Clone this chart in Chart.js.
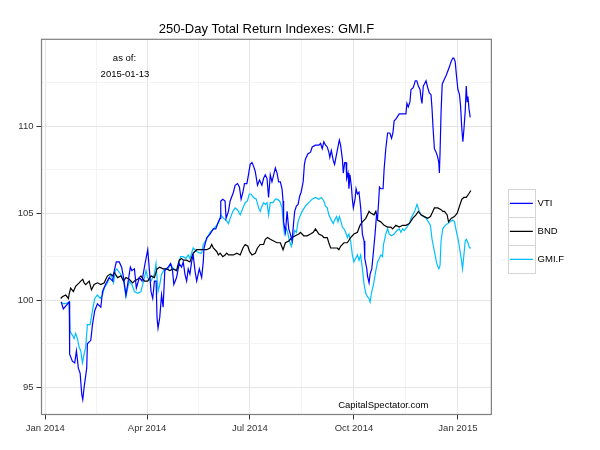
<!DOCTYPE html>
<html>
<head>
<meta charset="utf-8">
<title>250-Day Total Return Indexes: GMI.F</title>
<script src="https://cdn.jsdelivr.net/npm/chart.js@4.4.1/dist/chart.umd.min.js"></script>
<style>
  html, body { margin: 0; padding: 0; background: #fff; }
</style>
</head>
<body>
<canvas id="myChart" width="600" height="450"></canvas>
<script>
// x values are days counted from 2014-01-01
var vtiDays = [14.1, 15.9, 21.2, 21.5, 23.9, 26, 27.5, 29.2, 30.8, 32.2, 33.1, 34.3, 36.6, 37.2, 40.2, 41.7, 43.7, 46.1, 49.1, 50.6,
  53.2, 56.5, 59.5, 61, 62.8, 65.4, 67.5, 69.2, 71.3, 72.8, 75.2, 76.6, 78.8, 80.5, 83.2, 85.5, 88.2, 90.6, 92.1, 93.5,
  95, 96.5, 98, 98.8, 99.7, 101.2, 102.8, 104.2, 105.7, 108.6, 110.8, 112.5, 113.7, 116.1, 118.4, 120.5, 122, 123.5, 125, 126.4,
  127.9, 129.4, 130.8, 132.4, 133.9, 136.2, 138.3, 139.7, 140.4, 142.8, 145.7, 148.6, 150.8, 153.1, 154.6, 155.2, 157, 159, 159.9, 162,
  163.5, 166.4, 167.9, 170, 171.7, 173.2, 174.8, 176.2, 178.3, 179.7, 181.2, 182.8, 184.2, 185.7, 187.7, 189.5, 191.6, 193.1, 194.6, 196.1,
  197.5, 199, 200.5, 202, 203.5, 205, 206.4, 207.9, 209.4, 210.3, 210.8, 212.4, 213.9, 215.3, 216.8, 218.3, 219.7, 220.6, 222.1, 223.6,
  225.1, 226.3, 228.1, 229.2, 230.1, 232.2, 234.6, 236.1, 239, 242, 243.5, 245, 246.4, 247.9, 249.4, 250.8, 251.7, 253, 254.8, 255.9,
  257.7, 259.2, 260.1, 261.2, 262.8, 263.6, 264.8, 266, 266.6, 267.8, 268.6, 269.5, 270.8, 271.6, 272.5, 274, 274.9, 276.1, 277.5, 279,
  280.5, 282, 282.6, 284.4, 285, 286.4, 287.3, 288.8, 290.3, 291.7, 293, 293.9, 294.8, 295.6, 296.8, 298.8, 299.7, 301.2, 302.8, 304.8,
  306.3, 307.5, 308.6, 310.1, 313.1, 319, 319.9, 321.1, 322.6, 323.5, 325.5, 327.3, 328.6, 330, 331.5, 332.4, 333.2, 334.4, 335.3, 336.8,
  338.3, 339.7, 341.2, 342.1, 343, 344.2, 345.7, 347.2, 348.1, 348.6, 349.2, 350.1, 351.1, 353.1, 354.6, 357.5, 359, 360.5, 361.4, 362.6,
  363.7, 365, 366.4, 367.3, 368.5, 369.4, 370.3, 371.5, 372.4, 373.2, 373.9, 374.8, 375.9, 376.5];
var vtiValues = [99.9, 99.5, 99.9, 96.9, 96.5, 96.4, 97.1, 96.1, 95.8, 94.6, 94.3, 95.0, 96.1, 97.5, 97.7, 98.6, 99.4, 99.8, 99.6, 100.5,
  100.9, 101.3, 101.1, 101.7, 102.2, 102.2, 101.9, 101.3, 100.3, 100.9, 101.9, 101.7, 101.8, 100.7, 101.3, 101.1, 102.1, 102.9, 101.7, 100.5,
  100.1, 101.1, 101.1, 99.0, 98.4, 99.0, 100.3, 99.6, 101.7, 101.9, 102.1, 101.7, 100.9, 101.3, 102.1, 101.9, 102.2, 101.5, 101.1, 101.8,
  101.5, 102.2, 102.6, 101.7, 101.1, 101.8, 101.3, 102.2, 103.0, 103.6, 103.8, 104.1, 104.1, 104.5, 104.7, 105.7, 105.8, 105.7, 104.7, 105.1,
  105.7, 106.2, 106.6, 106.7, 106.5, 105.8, 106.2, 106.7, 106.7, 107.2, 107.8, 107.9, 107.7, 107.4, 106.6, 106.9, 106.6, 107.0, 107.2, 107.0,
  105.9, 107.2, 106.8, 107.2, 107.6, 107.3, 106.8, 106.8, 106.4, 105.7, 104.5, 103.9, 105.1, 104.1, 103.8, 103.4, 104.5, 105.1, 105.4, 105.5,
  106.0, 106.2, 106.8, 107.8, 108.1, 108.4, 108.5, 108.8, 108.9, 108.9, 109.0, 108.7, 109.1, 108.9, 108.8, 108.5, 108.2, 108.6, 108.0, 107.8,
  108.4, 108.9, 109.2, 108.9, 108.1, 107.3, 107.9, 107.9, 107.0, 107.3, 106.4, 107.2, 106.5, 105.8, 105.3, 105.8, 106.4, 106.1, 106.2, 105.3,
  103.8, 103.4, 102.4, 101.8, 101.4, 101.0, 101.5, 101.8, 102.8, 103.8, 104.9, 104.7, 105.6, 106.5, 106.4, 106.4, 107.5, 108.7, 109.6, 109.6,
  109.3, 109.6, 110.3, 110.4, 110.7, 110.7, 111.3, 111.1, 111.4, 112.1, 112.2, 112.6, 112.6, 112.3, 112.1, 111.6, 111.3, 112.3, 112.4, 112.6,
  112.2, 111.9, 111.8, 111.0, 109.9, 108.7, 108.5, 108.2, 107.9, 107.3, 108.5, 110.8, 112.4, 112.7, 112.9, 113.4, 113.7, 113.9, 113.9, 113.7,
  112.9, 112.1, 111.8, 111.2, 109.8, 109.1, 109.8, 110.9, 112.3, 111.4, 111.7, 111.0, 110.5, 110.5];

var bndDays = [13.6, 15, 18, 20.4, 21.2, 22.4, 24.8, 26.8, 29.9, 31.3, 33.1, 34.3, 35.7, 38.8, 40.8, 43.2, 46.1, 49.1, 52.1, 53.5,
  55, 57.4, 59.5, 61, 63.9, 66.8, 69.2, 71.3, 74.3, 77.2, 78.8, 81.7, 84.6, 87.6, 90.6, 93.5, 96.5, 98.8, 101.2, 104.2,
  107.2, 110.1, 113.1, 116.1, 118.4, 120.5, 122, 125, 127.9, 130.8, 133.9, 136.8, 139.7, 142.8, 145.7, 147.2, 148.6, 151.6, 153.1, 154.6,
  157, 159, 160.5, 162, 163.5, 166.4, 169.4, 172.4, 174.8, 176.8, 179.2, 180.6, 182.8, 185.7, 187.7, 190.1, 193.1, 194.6, 196.6, 199,
  202, 205, 207.9, 210.3, 212.4, 215.3, 218.3, 221.2, 224.2, 225.7, 228.6, 231.6, 234.6, 237, 239, 242, 245, 246.4, 249.4, 250.8,
  252.4, 255.3, 258.3, 259.7, 261.2, 264.2, 267.2, 270.1, 273, 276.1, 278.4, 280.5, 283.5, 286.4, 287.9, 290.8, 292.4, 293.9, 296.8, 299.7,
  302.8, 305.7, 307.2, 310.1, 313.1, 316.1, 319, 322, 325, 327.9, 330, 332.4, 335.3, 338.3, 340.7, 342.8, 344.2, 347.2, 350.1, 351.6,
  353.1, 355.5, 356.7, 359, 361.9, 364.4, 366.4, 368.5, 370.3, 372.4, 374.5, 376.5];
var bndValues = [100.1, 100.2, 100.3, 100.1, 100.4, 100.7, 100.5, 100.8, 101.0, 101.1, 101.2, 101.0, 100.9, 101.1, 100.6, 100.9, 101.0, 100.9, 101.0, 101.2,
  101.4, 101.5, 101.4, 101.6, 101.3, 101.4, 101.1, 101.3, 101.2, 101.0, 101.1, 101.2, 101.4, 101.1, 101.1, 101.4, 101.3, 101.8, 101.9, 101.8,
  101.8, 101.7, 101.8, 101.7, 102.3, 102.4, 102.3, 102.3, 102.2, 102.7, 102.9, 102.9, 102.9, 102.9, 103.0, 103.2, 103.0, 102.8, 102.6, 102.7,
  102.5, 102.6, 102.7, 102.6, 102.6, 102.6, 102.7, 102.6, 103.0, 103.2, 103.1, 102.8, 102.6, 102.7, 103.0, 103.2, 103.2, 103.5, 103.6, 103.5,
  103.4, 103.3, 103.3, 102.9, 103.3, 103.4, 103.6, 103.7, 103.8, 103.9, 103.7, 103.7, 103.8, 103.9, 104.1, 103.8, 103.7, 103.6, 103.6, 103.3,
  103.0, 103.0, 103.0, 102.9, 103.1, 103.3, 103.3, 103.6, 103.8, 103.9, 104.3, 104.5, 104.7, 105.1, 105.0, 104.9, 105.1, 104.6, 104.5, 104.3,
  104.2, 104.2, 104.1, 104.3, 104.2, 104.3, 104.3, 104.4, 104.7, 104.9, 105.1, 104.9, 104.8, 104.7, 104.8, 105.1, 105.3, 105.3, 105.2, 105.1,
  105.1, 104.9, 104.5, 104.7, 104.8, 105.0, 105.4, 105.8, 105.9, 105.9, 106.1, 106.3];

var gmiDays = [13.6, 15.9, 18, 21, 21.9, 23.9, 25.4, 26.8, 28.4, 29.9, 31.3, 32.8, 34.3, 35.7, 37.2, 39.6, 41.7, 43.7, 46.1, 48.5,
  50.6, 52.1, 55, 58, 60.4, 61.9, 63.3, 65.4, 66.8, 69.2, 71.3, 72.8, 74.3, 76.6, 78.8, 81.7, 84.6, 87.6, 89.1, 90.6,
  93.5, 96.5, 97.9, 99.7, 101.2, 102.8, 105.7, 108.6, 110.8, 113.1, 116.1, 118.4, 119.6, 122, 124.4, 126.4, 127.9, 130.8, 133.9, 136.8,
  138.3, 139.7, 142.8, 145.7, 148.6, 151.6, 153.7, 155.2, 157.5, 159.9, 162, 163.5, 165.9, 167.9, 170, 172.4, 174.8, 176.8, 178.8, 180.4,
  181.9, 184.2, 186.6, 188.7, 190.1, 191.6, 193.1, 194.6, 196.1, 197.5, 199, 201.4, 203.5, 205, 207.3, 209.4, 210.3, 211.5, 213.2, 214.4,
  215.9, 217.7, 219.2, 220.6, 222.1, 223.6, 225.1, 227.2, 230.1, 233.1, 236.1, 239, 242, 244.3, 246.4, 247.9, 249.4, 250.8, 253, 254.8,
  255.9, 257.7, 258.9, 260.1, 261.2, 262.8, 264.2, 265.7, 267.2, 268.6, 270.1, 271.6, 273, 274.5, 276.1, 277.5, 279, 280.5, 282, 283.5,
  285, 286.4, 287.3, 288.8, 290.3, 292.4, 293.9, 295.4, 296.8, 298.3, 299.2, 301.2, 302.8, 304.2, 306.3, 308.6, 311, 313.1, 314.6, 316.1,
  317.5, 319.9, 322, 323.5, 325.9, 327.3, 328.8, 330.9, 332.4, 334.8, 336.8, 338.9, 340.7, 342.1, 344.2, 346.3, 348.1, 349.2, 350.1, 351.6,
  353.7, 356.1, 358.1, 360.5, 362, 363.5, 365.5, 366.7, 367.9, 369.1, 370.3, 371.5, 372.4, 373.9, 375.3, 376.5];
var gmiValues = [99.9, 99.8, 99.8, 99.9, 98.2, 98.0, 97.8, 98.1, 97.8, 97.3, 97.1, 96.4, 96.9, 97.3, 98.6, 98.6, 99.4, 100.1, 100.3, 100.1,
  100.3, 100.7, 101.0, 101.5, 101.0, 101.7, 101.8, 101.6, 101.5, 101.1, 100.2, 100.7, 101.1, 100.9, 100.5, 100.4, 100.5, 101.3, 101.7, 101.3,
  101.1, 101.5, 102.1, 100.5, 100.9, 101.5, 101.8, 101.8, 102.1, 101.8, 101.7, 102.1, 102.5, 102.5, 102.4, 102.6, 102.4, 103.0, 102.8, 102.7,
  102.7, 103.2, 103.5, 103.9, 104.1, 104.3, 104.5, 104.9, 104.7, 104.6, 104.4, 104.7, 105.1, 105.3, 105.2, 104.9, 105.3, 105.6, 105.7, 106.1,
  106.1, 105.9, 105.8, 105.3, 105.1, 105.4, 105.6, 105.5, 105.6, 104.9, 105.6, 105.6, 105.8, 105.8, 105.7, 105.3, 104.6, 103.8, 104.1, 103.9,
  103.4, 103.1, 103.6, 104.0, 103.9, 104.5, 104.8, 105.1, 105.4, 105.6, 105.8, 105.9, 105.8, 105.9, 105.7, 105.4, 105.3, 104.9, 104.6, 104.4,
  104.6, 104.8, 104.5, 104.8, 104.6, 104.2, 104.1, 103.9, 103.6, 103.8, 103.4, 102.6, 102.2, 102.4, 102.6, 102.3, 102.6, 101.8, 100.9, 100.4,
  100.2, 100.1, 99.9, 100.5, 100.9, 101.7, 102.2, 102.4, 102.6, 102.5, 103.2, 103.8, 104.1, 103.8, 103.7, 103.8, 104.0, 104.1, 103.9, 104.1,
  104.0, 104.2, 104.4, 104.7, 105.0, 105.2, 105.5, 105.1, 104.9, 104.8, 104.7, 104.5, 104.3, 103.5, 102.8, 102.1, 101.8, 102.0, 103.4, 104.1,
  104.3, 104.4, 104.5, 104.6, 104.5, 104.0, 103.4, 102.9, 102.4, 101.8, 102.6, 103.4, 103.5, 103.3, 103.0, 103.0];

var seriesNames = ['VTI', 'BND', 'GMI.F'];

// axis ticks
var xMajorDays = [0, 90, 181, 273, 365];
var xMajorLabels = ['Jan 2014', 'Apr 2014', 'Jul 2014', 'Oct 2014', 'Jan 2015'];
var xMinorDays = [45, 135.5, 227, 319];
var yMajorTicks = [95, 100, 105, 110];
var yMinorTicks = [97.5, 102.5, 107.5, 112.5];

// text notes inside the panel
var noteTexts = ['as of:', '2015-01-13', 'CapitalSpectator.com'];
var noteDays = [70, 70.4, 299];
var noteValues = [113.89, 112.99, 93.94];

var FONT = '"Liberation Sans", Arial, sans-serif';
Chart.defaults.font.family = FONT;
Chart.defaults.color = '#333';

function toPoints(days, vals) {
    return days.map(function(d, i) { return { x: d, y: vals[i] }; });
}

// panel border, notes and the grey cells round the legend keys
var panelPlugin = {
    id: 'panel',
    afterDraw: function(chart) {
        var ctx = chart.ctx;
        var a = chart.chartArea;
        var sx = chart.scales.x, sy = chart.scales.y;
        ctx.save();
        ctx.strokeStyle = '#7f7f7f';
        ctx.lineWidth = 1.2;
        ctx.strokeRect(a.left, a.top, a.right - a.left, a.bottom - a.top);

        ctx.fillStyle = '#000';
        ctx.font = '9.5px ' + FONT;
        ctx.textAlign = 'center';
        ctx.textBaseline = 'middle';
        noteTexts.forEach(function(t, i) {
            ctx.fillText(t, sx.getPixelForValue(noteDays[i]), sy.getPixelForValue(noteValues[i]));
        });

        var lg = chart.legend;
        ctx.strokeStyle = '#d4d4d4';
        ctx.lineWidth = 1;
        lg.legendHitBoxes.forEach(function(hb) {
            var cy = hb.top + 4.75;
            ctx.strokeRect(Math.round(hb.left - 2) + 0.5, Math.round(cy - 14) + 0.5, 27, 28);
        });
        ctx.restore();
    }
};

var ctx = document.getElementById('myChart').getContext('2d');
var myChart = new Chart(ctx, {
    type: 'line',
    data: {
        datasets: [{
            label: seriesNames[0],
            data: toPoints(vtiDays, vtiValues),
            borderColor: '#0000ff',
            borderWidth: 1.2
        }, {
            label: seriesNames[1],
            data: toPoints(bndDays, bndValues),
            borderColor: '#000000',
            borderWidth: 1.2
        }, {
            label: seriesNames[2],
            data: toPoints(gmiDays, gmiValues),
            borderColor: '#00bfff',
            borderWidth: 1.2
        }]
    },
    options: {
        responsive: false,
        animation: false,
        elements: { point: { radius: 0 }, line: { tension: 0 } },
        layout: { padding: { left: 0, right: 26, top: 0, bottom: 0 } },
        plugins: {
            title: {
                display: true,
                text: '250-Day Total Return Indexes: GMI.F',
                fullSize: false,
                color: '#000',
                font: { size: 13, weight: 'normal' },
                padding: { top: 21.2, bottom: 2.5 }
            },
            legend: {
                position: 'right',
                title: { display: true, text: '', font: { size: 10.5 }, padding: 0 },
                labels: {
                    usePointStyle: true,
                    pointStyle: 'line',
                    pointStyleWidth: 23,
                    padding: 18.5,
                    color: '#000',
                    font: { size: 9.5 }
                }
            },
            tooltip: { enabled: false }
        },
        scales: {
            x: {
                type: 'linear',
                min: -3.4,
                max: 394.6,
                afterBuildTicks: function(s) {
                    s.ticks = xMajorDays.concat(xMinorDays).sort(function(a, b) { return a - b; })
                        .map(function(v) { return { value: v }; });
                },
                afterFit: function(s) { s.height = 35.5; },
                ticks: {
                    autoSkip: false,
                    maxRotation: 0,
                    padding: 3,
                    color: '#333',
                    font: { size: 9.5 },
                    callback: function(v) {
                        var i = xMajorDays.indexOf(v);
                        return i >= 0 ? xMajorLabels[i] : '';
                    }
                },
                grid: {
                    color: function(c) { return xMajorDays.indexOf(c.tick.value) >= 0 ? '#e5e5e5' : '#f4f4f4'; },
                    tickColor: function(c) { return xMajorDays.indexOf(c.tick.value) >= 0 ? '#333' : 'rgba(0,0,0,0)'; },
                    tickLength: 5
                },
                border: { display: false }
            },
            y: {
                type: 'linear',
                min: 93.44,
                max: 114.98,
                afterBuildTicks: function(s) {
                    s.ticks = yMajorTicks.concat(yMinorTicks).sort(function(a, b) { return a - b; })
                        .map(function(v) { return { value: v }; });
                },
                afterFit: function(s) { s.width = 41.5; },
                ticks: {
                    padding: 3,
                    color: '#333',
                    font: { size: 9.5 },
                    callback: function(v) {
                        return yMajorTicks.indexOf(v) >= 0 ? String(v) : '';
                    }
                },
                grid: {
                    color: function(c) { return yMajorTicks.indexOf(c.tick.value) >= 0 ? '#e5e5e5' : '#f4f4f4'; },
                    tickColor: function(c) { return yMajorTicks.indexOf(c.tick.value) >= 0 ? '#333' : 'rgba(0,0,0,0)'; },
                    tickLength: 5
                },
                border: { display: false }
            }
        }
    },
    plugins: [panelPlugin]
});
</script>
</body>
</html>
